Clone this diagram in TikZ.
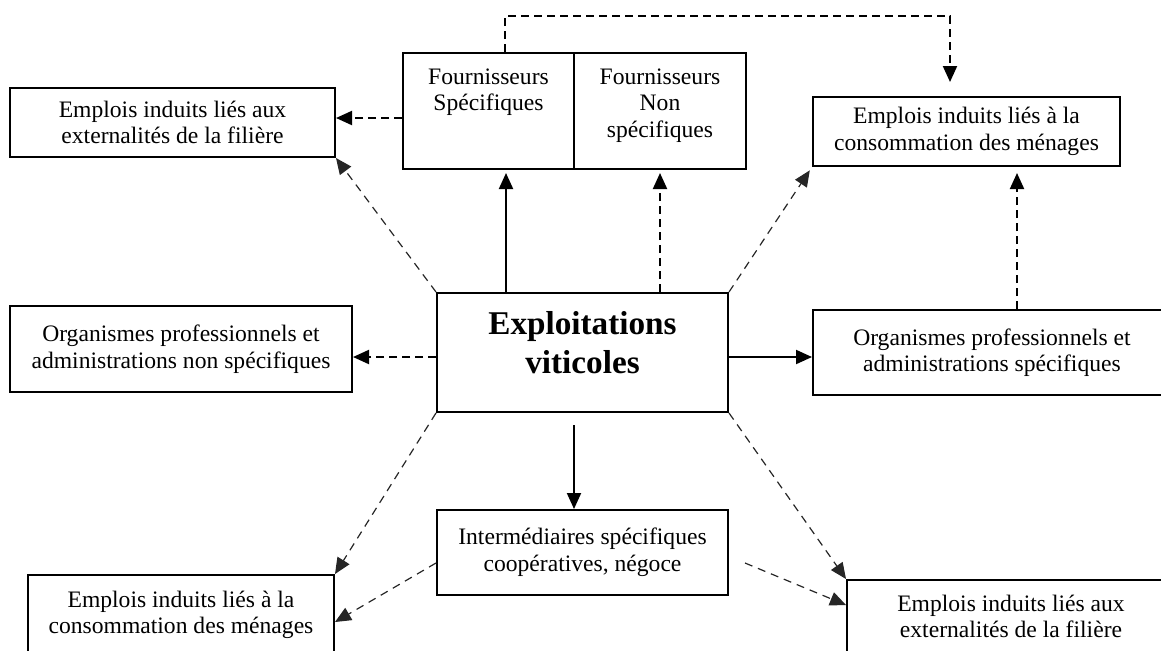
\documentclass[tikz,border=0pt]{standalone}
\usepackage{fontspec}
\setmainfont{Liberation Serif}
\usepackage{tikz}
\usetikzlibrary{arrows.meta}

\begin{document}
\begin{tikzpicture}[x=0.5pt, y=-0.5pt,
  box/.style={draw=black, line width=1pt, inner sep=0pt, align=center,
              font=\fontsize{11.8}{13.3}\selectfont},
  lbl/.style={inner sep=0pt, align=center, font=\fontsize{11.8}{13.3}\selectfont},
  biglbl/.style={inner sep=0pt, align=center, font=\fontsize{16.6}{19.5}\selectfont\bfseries},
  arr/.style={-{Triangle[length=8pt,width=7pt]}, line width=1pt, draw=black},
  darr/.style={arr, dash pattern=on 4pt off 2.5pt},
  diagarr/.style={-{Triangle[length=8pt,width=7pt]}, line width=0.6pt, draw=black!85,
                  dash pattern=on 4pt off 3pt}
]
  \clip (0,0) rectangle (1161,650);

  % Nodes
  \node[box, minimum width=162.5pt, minimum height=34.5pt] (extA) at (172.5,122.5)
    {Emplois induits liés aux\\externalités de la filière};
  \node[box, minimum width=85.5pt, minimum height=58pt] (fs)  at (488.5,111) {};
  \node[box, minimum width=86pt,   minimum height=58pt] (fns) at (660,111) {};
  \node[lbl] (fstxt)  at (488.5,92)  {Fournisseurs\\Spécifiques};
  \node[lbl] (fnstxt) at (660,105.5) {Fournisseurs\\Non\\spécifiques};
  \node[box, minimum width=153.5pt, minimum height=34.5pt] (consB) at (966.5,131.5)
    {Emplois induits liés à la\\consommation des ménages};
  \node[box, minimum width=171pt, minimum height=43pt] (orgC) at (181,349)
    {Organismes professionnels et\\administrations non spécifiques};
  \node[box, minimum width=145.5pt, minimum height=59.5pt] (expl) at (582.5,352.5) {};
  \node[biglbl] (expltxt) at (582.5,342.5) {Exploitations\\viticoles};
  \node[box, minimum width=179pt, minimum height=42.5pt] (orgD) at (992,352.5)
    {Organismes professionnels et\\administrations spécifiques};
  \node[box, minimum width=145.5pt, minimum height=42.5pt] (inter) at (582.5,552.5)
    {Intermédiaires spécifiques\\coopératives, négoce};
  \node[box, minimum width=153pt, minimum height=40pt] (consF) at (181,615)
    {Emplois induits liés à la\\consommation des ménages};
  \node[box, minimum width=164pt, minimum height=36.5pt] (extG) at (1011,616.5)
    {Emplois induits liés aux\\externalités de la filière};

  % Helper points
  \coordinate (loopL) at ([xshift=8.25pt]fs.north);
  \coordinate (loopR) at ([xshift=-8.25pt]consB.north);
  \coordinate (fa) at ([yshift=2.25pt]extA.east);
  \coordinate (s1) at ([xshift=-38.25pt]expl.north);
  \coordinate (ml) at ([yshift=-2.25pt]expl.west);
  \coordinate (mr) at ([yshift=-2.25pt]expl.east);
  \coordinate (d1) at ([xshift=12.5pt]orgD.north);
  \coordinate (b1) at ([xshift=-4.25pt,yshift=-6pt]expl.south);
  \coordinate (il) at ([yshift=-5.25pt]inter.west);
  \coordinate (ir) at ([xshift=8pt,yshift=-5.25pt]inter.east);

  % Upper links
  \draw[darr, shorten >=7pt] (loopL) -- ++(0,-36) -| (loopR);
  \draw[darr] (fa -| fs.west) -- (fa);
  \draw[arr, shorten >=1.5pt] (s1) -- (s1 |- fs.south);
  \draw[darr, shorten >=1.5pt] (fns.south |- expl.north) -- (fns.south);
  \draw[diagarr] (expl.north west) -- (extA.south east);
  \draw[diagarr, shorten >=2pt] (expl.north east) -- (consB.south west);

  % Middle links
  \draw[darr] (ml) -- (ml -| orgC.east);
  \draw[arr] (mr) -- (mr -| orgD.west);
  \draw[darr, shorten >=3pt] (d1) -- (d1 |- consB.south);

  % Lower links
  \draw[arr] (b1) -- (b1 |- inter.north);
  \draw[diagarr] (expl.south west) -- (consF.north east);
  \draw[diagarr] (il) -- ([yshift=-3.5pt]consF.east);
  \draw[diagarr] (expl.south east) -- (extG.north west);
  \draw[diagarr] (ir) -- ([yshift=5.75pt]extG.west);
\end{tikzpicture}
\end{document}
